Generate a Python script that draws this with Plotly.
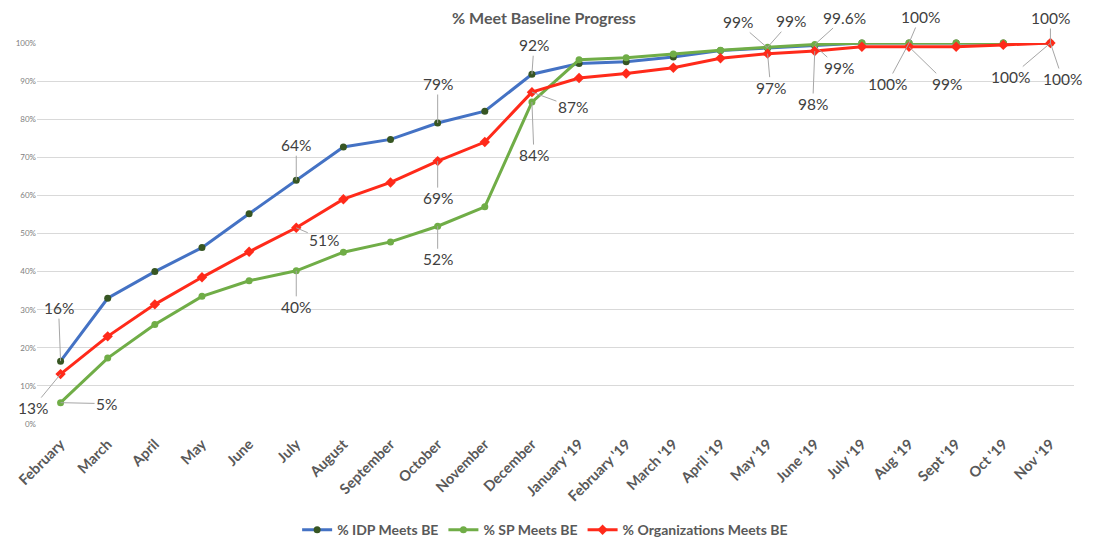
import plotly.graph_objects as go

months = ["February", "March", "April", "May", "June", "July", "August",
          "September", "October", "November", "December", "January '19",
          "February '19", "March '19", "April '19", "May '19", "June '19",
          "July '19", "Aug '19", "Sept '19", "Oct '19", "Nov '19"]

idp_meets = [16.5, 33, 40, 46.3, 55.2, 64, 72.7, 74.7, 79, 82.1, 91.8, 94.6,
             95.1, 96.3, 98, 98.7, 99.3, 100, 100, 100, 100, 100]
sp_meets = [5.6, 17.3, 26.1, 33.5, 37.6, 40.2, 45.1, 47.8, 51.9, 57, 84.5, 95.6,
            96.1, 97.1, 98.1, 98.9, 99.6, 100, 100, 100, 100, 100]
org_meets = [13.1, 23, 31.4, 38.5, 45.2, 51.5, 59, 63.4, 69, 74, 87.1, 90.8,
             92, 93.5, 96, 97.2, 97.9, 99, 99, 99, 99.5, 100]

y_ticks = [0, 10, 20, 30, 40, 50, 60, 70, 80, 90, 100]
y_tick_text = [f"{v}%" for v in y_ticks]

# data labels: (series, month index, text, x offset, y offset)
labels = [
    ("idp", 0, "16%", -2, -53), ("idp", 5, "64%", 0, -35),
    ("idp", 8, "79%", 0, -39), ("idp", 10, "92%", 2, -29),
    ("idp", 15, "99%", -30, -26), ("idp", 16, "99%", 24, 22),
    ("idp", 18, "100%", -22, 41), ("idp", 21, "100%", -40, 34),
    ("sp", 0, "5%", 46, 1), ("sp", 5, "40%", 0, 36),
    ("sp", 8, "52%", 0, 33), ("sp", 10, "84%", 2, 53),
    ("sp", 15, "99%", 23, -26), ("sp", 16, "99.6%", 30, -27),
    ("sp", 18, "100%", 11, -26), ("sp", 21, "100%", 0, -25),
    ("org", 0, "13%", -28, 34), ("org", 5, "51%", 28, 12),
    ("org", 8, "69%", 0, 37), ("org", 10, "87%", 41, 15),
    ("org", 15, "97%", 3, 34), ("org", 16, "98%", -2, 53),
    ("org", 18, "99%", 38, 37), ("org", 21, "100%", 12, 36),
]

series = {"idp": idp_meets, "sp": sp_meets, "org": org_meets}

fig = go.Figure()
fig.add_trace(go.Scatter(x=months, y=idp_meets, mode="lines+markers", name="<b>% IDP Meets BE</b>",
                         line=dict(color="#4472C4", width=3),
                         marker=dict(color="#375623", size=7), cliponaxis=False))
fig.add_trace(go.Scatter(x=months, y=sp_meets, mode="lines+markers", name="<b>% SP Meets BE</b>",
                         line=dict(color="#70AD47", width=3),
                         marker=dict(color="#70AD47", size=7), cliponaxis=False))
fig.add_trace(go.Scatter(x=months, y=org_meets, mode="lines+markers", name="<b>% Organizations Meets BE</b>",
                         line=dict(color="#FF2A1A", width=3),
                         marker=dict(color="#FF2A1A", size=8, symbol="diamond"), cliponaxis=False))

for key, i, text, ax, ay in labels:
    fig.add_annotation(x=months[i], y=series[key][i], text=text, ax=ax, ay=ay,
                       showarrow=True, arrowhead=0, arrowwidth=1, arrowcolor="#A6A6A6",
                       font=dict(size=15.5, color="#404040"))

# page body adds an 8px offset, so margins are shifted to compensate
fig.update_layout(
    width=1096, height=540,
    margin=dict(l=29, r=30, t=35, b=124),
    paper_bgcolor="white", plot_bgcolor="white",
    font=dict(family="Lato, Open Sans, sans-serif", color="#595959"),
    title=dict(text="<b>% Meet Baseline Progress</b>", x=0.489, xanchor="center",
               y=0.98, yanchor="middle", font=dict(size=16, color="#595959")),
    showlegend=True,
    legend=dict(orientation="h", x=0.49, xanchor="center", yref="container",
                y=0.033, yanchor="middle", font=dict(size=14, color="#595959")),
    xaxis=dict(type="category", range=[-0.5, 21.5], tickangle=-45, automargin=False,
               tickprefix="<b>", ticksuffix="</b>", ticklabelstandoff=8,
               tickfont=dict(size=14.5, color="#595959"),
               showgrid=False, showline=False, ticks=""),
    yaxis=dict(range=[0, 100], tickvals=y_ticks, ticktext=y_tick_text, automargin=False,
               tickfont=dict(size=8, color="#808080"),
               showgrid=True, gridcolor="#D9D9D9", gridwidth=1, zeroline=False),
)

fig.write_html("out.html")
